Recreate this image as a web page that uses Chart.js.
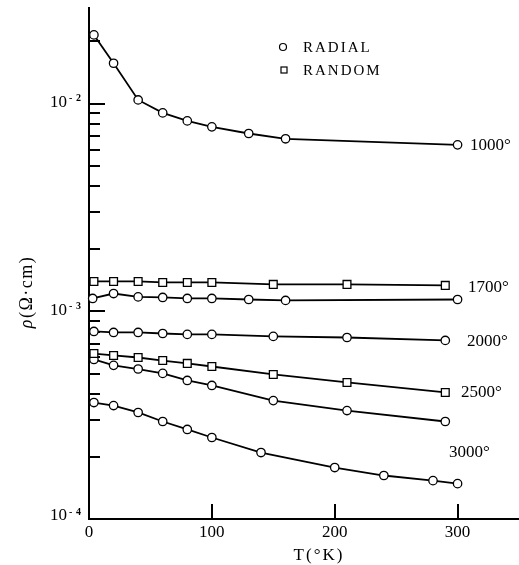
<!DOCTYPE html>
<html>
<head>
<meta charset="utf-8">
<script src="https://cdn.jsdelivr.net/npm/chart.js@4.4.1/dist/chart.umd.min.js"></script>
<style>
  body { margin: 0; background: #fff; }
  canvas { display: block; }
</style>
</head>
<body>
<canvas id="myChart" width="519" height="565"></canvas>
<script>
// temperature (K) and resistivity (ohm cm)
var t1000 = [4, 20, 40, 60, 80, 100, 130, 160, 300];
var rho1000 = [2.15e-2, 1.57e-2, 1.045e-2, 9.05e-3, 8.28e-3, 7.75e-3, 7.2e-3, 6.79e-3, 6.35e-3];

var t1700Random = [4, 20, 40, 60, 80, 100, 150, 210, 290];
var rho1700Random = [1.395e-3, 1.395e-3, 1.395e-3, 1.38e-3, 1.38e-3, 1.38e-3, 1.35e-3, 1.35e-3, 1.335e-3];

var t1700Radial = [3, 20, 40, 60, 80, 100, 130, 160, 300];
var rho1700Radial = [1.155e-3, 1.22e-3, 1.175e-3, 1.168e-3, 1.155e-3, 1.155e-3, 1.142e-3, 1.13e-3, 1.142e-3];

var t2000 = [4, 20, 40, 60, 80, 100, 150, 210, 290];
var rho2000 = [8.01e-4, 7.92e-4, 7.92e-4, 7.83e-4, 7.75e-4, 7.75e-4, 7.58e-4, 7.49e-4, 7.25e-4];

var t2500Random = [4, 20, 40, 60, 80, 100, 150, 210, 290];
var rho2500Random = [6.27e-4, 6.14e-4, 6.0e-4, 5.8e-4, 5.62e-4, 5.43e-4, 4.97e-4, 4.55e-4, 4.07e-4];

var t2500Radial = [4, 20, 40, 60, 80, 100, 150, 210, 290];
var rho2500Radial = [5.87e-4, 5.5e-4, 5.28e-4, 5.03e-4, 4.65e-4, 4.4e-4, 3.72e-4, 3.33e-4, 2.95e-4];

var t3000 = [4, 20, 40, 60, 80, 100, 140, 200, 240, 280, 300];
var rho3000 = [3.64e-4, 3.52e-4, 3.26e-4, 2.95e-4, 2.70e-4, 2.47e-4, 2.09e-4, 1.77e-4, 1.62e-4, 1.53e-4, 1.48e-4];

var xTicks = [0, 100, 200, 300];
var yDecades = [-4, -3, -2];
var curveLabels = ["1000°", "1700°", "2000°", "2500°", "3000°"];
var legendLabels = ["RADIAL", "RANDOM"];

var SERIF = '"Liberation Serif", "DejaVu Serif", serif';

function pts(xs, ys) {
  return xs.map(function (x, i) { return { x: x, y: ys[i] }; });
}

function series(xs, ys, style) {
  return {
    data: pts(xs, ys),
    showLine: true,
    borderColor: "#000",
    borderWidth: 1.8,
    tension: 0,
    pointStyle: style,
    pointRadius: style === "rect" ? 5.5 : 4.2,
    pointBorderWidth: 1.3,
    pointBorderColor: "#000",
    pointBackgroundColor: "#fff",
    clip: false,
  };
}

// axes, ticks and texts drawn with the chart's own scales
var paperAxes = {
  id: "paperAxes",
  beforeDatasetsDraw: function (chart) {
    var ctx = chart.ctx, a = chart.chartArea;
    var x = chart.scales.x, y = chart.scales.y;
    ctx.save();
    ctx.strokeStyle = "#000";
    ctx.lineWidth = 2;
    ctx.beginPath();
    ctx.moveTo(a.left, a.top);
    ctx.lineTo(a.left, a.bottom);
    ctx.lineTo(a.right, a.bottom);
    ctx.stroke();

    // y ticks pointing inward
    yDecades.forEach(function (e) {
      for (var m = 1; m <= 9; m++) {
        var v = m * Math.pow(10, e);
        if (v < y.min || v > y.max) continue;
        var py = Math.round(y.getPixelForValue(v));
        var len = m === 1 ? 16 : 11;
        ctx.beginPath();
        ctx.moveTo(a.left, py);
        ctx.lineTo(a.left + len, py);
        ctx.stroke();
      }
    });

    // x ticks
    xTicks.forEach(function (t) {
      if (t === 0) return;
      var px = Math.round(x.getPixelForValue(t));
      ctx.beginPath();
      ctx.moveTo(px, a.bottom);
      ctx.lineTo(px, a.bottom - 15);
      ctx.stroke();
    });

    ctx.fillStyle = "#000";
    ctx.font = "17px " + SERIF;
    ctx.textAlign = "center";
    ctx.textBaseline = "middle";
    xTicks.forEach(function (t) {
      ctx.fillText(String(t), x.getPixelForValue(t), a.bottom + 14);
    });

    // y tick labels 10^-n
    yDecades.forEach(function (e) {
      var py = y.getPixelForValue(Math.pow(10, e));
      if (e === -4) py -= 3;
      else py -= 1;
      ctx.font = "17px " + SERIF;
      ctx.textAlign = "right";
      ctx.textBaseline = "middle";
      ctx.fillText("10", 67, py);
      ctx.font = "bold 10px " + SERIF;
      ctx.textAlign = "left";
      ctx.fillText("-", 69, py - 4);
      ctx.fillText(String(-e), 76, py - 4);
    });

    // axis titles
    ctx.font = "17px " + SERIF;
    ctx.letterSpacing = "2px";
    ctx.textAlign = "center";
    ctx.fillText("T(°K)", 319, 556);

    ctx.save();
    ctx.translate(27, 292);
    ctx.rotate(-Math.PI / 2);
    ctx.letterSpacing = "1.5px";
    var rest = "(Ω·cm)";
    ctx.font = "18px " + SERIF;
    var wRest = ctx.measureText(rest).width;
    ctx.font = "italic 18px " + SERIF;
    var wRho = ctx.measureText("ρ").width;
    var start = -(wRest + wRho) / 2;
    ctx.textAlign = "left";
    ctx.fillText("ρ", start, 0);
    ctx.font = "18px " + SERIF;
    ctx.fillText(rest, start + wRho, 0);
    ctx.restore();

    // curve labels
    ctx.letterSpacing = "0px";
    ctx.font = "17px " + SERIF;
    ctx.textAlign = "left";
    var labelPos = [[470, 146], [468, 288], [467, 342], [461, 393], [449, 453]];
    curveLabels.forEach(function (s, i) {
      ctx.fillText(s, labelPos[i][0], labelPos[i][1]);
    });

    // legend
    ctx.font = "15px " + SERIF;
    ctx.letterSpacing = "2px";
    ctx.lineWidth = 1.2;
    ctx.fillText(legendLabels[0], 303, 48);
    ctx.fillText(legendLabels[1], 303, 71);
    ctx.beginPath();
    ctx.arc(283, 47, 3.5, 0, Math.PI * 2);
    ctx.stroke();
    ctx.strokeRect(281, 67, 6, 6);
    ctx.restore();
  },
};

new Chart("myChart", {
  type: "line",
  data: {
    datasets: [
      series(t1000, rho1000, "circle"),
      series(t1700Random, rho1700Random, "rect"),
      series(t1700Radial, rho1700Radial, "circle"),
      series(t2000, rho2000, "circle"),
      series(t2500Random, rho2500Random, "rect"),
      series(t2500Radial, rho2500Radial, "circle"),
      series(t3000, rho3000, "circle"),
    ],
  },
  options: {
    responsive: false,
    animation: false,
    layout: { autoPadding: false, padding: { left: 89, right: 0, top: 7, bottom: 46 } },
    plugins: { legend: { display: false }, tooltip: { enabled: false } },
    scales: {
      x: { type: "linear", min: 0, max: 350, display: false },
      y: { type: "logarithmic", min: 1e-4, max: 2.93e-2, display: false },
    },
  },
  plugins: [paperAxes],
});
</script>
</body>
</html>
